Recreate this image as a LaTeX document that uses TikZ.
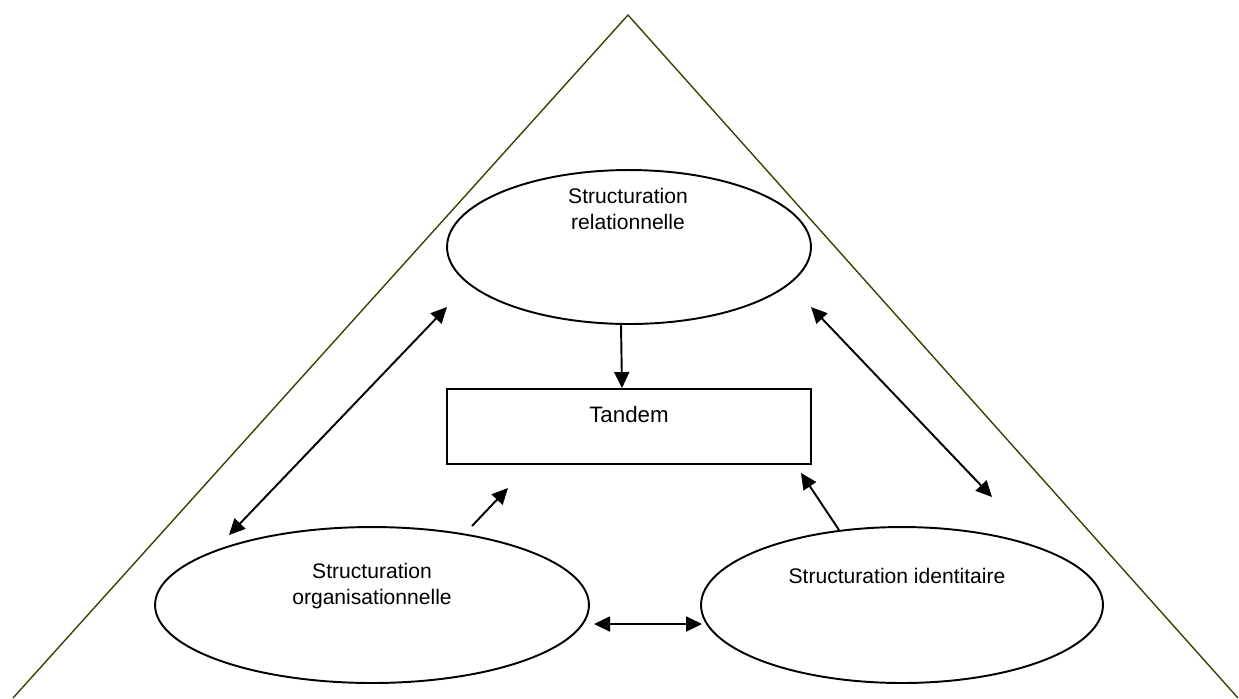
\documentclass[tikz,border=0pt]{standalone}
\usepackage{fontspec}
\setmainfont{Liberation Sans}
\usetikzlibrary{arrows.meta}
\usetikzlibrary{shapes.geometric}
\definecolor{triolive}{RGB}{66,62,8}
\tikzset{
	every node/.style={font=\fontsize{12}{15.3}\selectfont}
}
\tikzset{
	bubble/.style={ellipse,draw,line width=1.1pt,inner sep=0pt},
	block/.style={rectangle,draw,line width=1.1pt,inner sep=0pt}
}
\tikzset{
	>={Triangle[length=0.32cm,width=0.3cm]}
}
\begin{document}
\begin{tikzpicture}[x=0.02cm,y=-0.02cm,line width=1.1pt]
	\useasboundingbox (0,0) rectangle (1239,698);
	% outer triangle
	\draw[triolive,line width=0.8pt] (13,698) -- (628,15) -- (1238,698);
	% the three structurations and the tandem
	\node[bubble,minimum width=7.28cm,minimum height=3.08cm] (rel) at (629,247) {};
	\node[bubble,minimum width=8.68cm,minimum height=3.12cm] (org) at (372,605) {};
	\node[bubble,minimum width=8.04cm,minimum height=3.12cm] (idt) at (902,605) {};
	\node[block,minimum width=7.28cm,minimum height=1.5cm] (tandem) at (629,426.5) {};
	\node[align=center] (relT) at (628,209) {Structuration\\relationnelle};
	\node[align=center] (orgT) at (372,586) {Structuration\\organisationnelle};
	\node (idtT) at (897,576) {Structuration identitaire};
	\node[font=\fontsize{12.7}{15}\selectfont] (tandemT) at (629,415) {Tandem};
	% arrow ends
	\coordinate (relSW) at (447,307);
	\coordinate (orgNW) at (229,535);
	\coordinate (relSE) at (811,307);
	\coordinate (idtNE) at (992,497);
	\coordinate (orgE) at (594,624);
	\coordinate (idtW) at (702,624);
	\coordinate (orgUp) at (472,526);
	\coordinate (tandemSW) at (508,488);
	\coordinate (idtUp) at (839,530);
	\coordinate (tandemSE) at (801,473);
	\draw[->] ([xshift=-0.16cm]rel.south) -- ([xshift=-0.14cm]tandem.north);
	\draw[<->] (relSW) -- (orgNW);
	\draw[<->] (relSE) -- (idtNE);
	\draw[<->] (orgE) -- (idtW);
	\draw[->] (orgUp) -- (tandemSW);
	\draw[->] (idtUp) -- (tandemSE);
\end{tikzpicture}
\end{document}
